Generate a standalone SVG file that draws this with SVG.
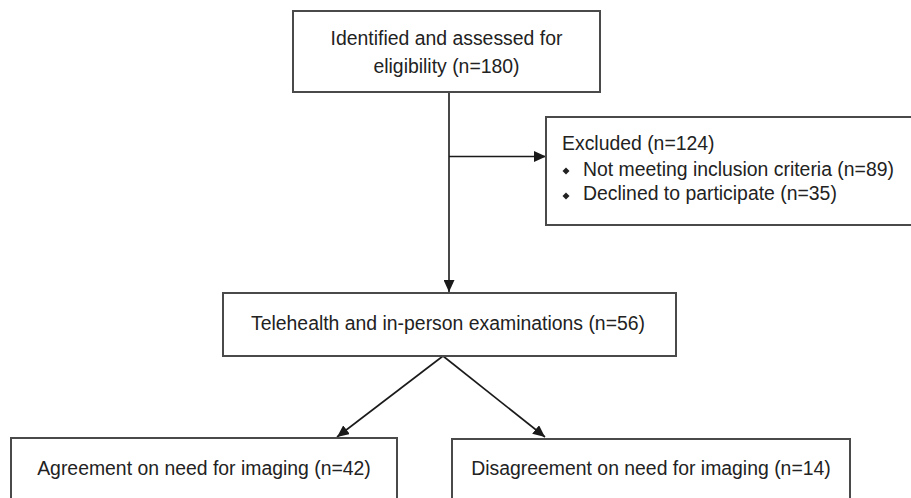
<svg xmlns="http://www.w3.org/2000/svg" width="911" height="498" viewBox="0 0 911 498">
  <style>
    .box { fill: #ffffff; stroke: #4a4a4a; stroke-width: 2; }
    .lbl { font-family: "Liberation Sans", Arial, sans-serif; font-size: 19.4px; fill: #222222; }
    .mid { text-anchor: middle; }
    .conn { stroke: #1a1a1a; stroke-width: 1.6; fill: none; }
  </style>
  <defs>
    <marker id="arrow" viewBox="0 0 12 11" refX="12" refY="5.5" markerWidth="12" markerHeight="11" markerUnits="userSpaceOnUse" orient="auto">
      <path d="M0,0 L12,5.5 L0,11 Z" fill="#1a1a1a"/>
    </marker>
  </defs>
  <rect width="911" height="498" fill="#ffffff"/>

  <g id="connectors">
    <line class="conn" x1="449" y1="92" x2="449" y2="292" marker-end="url(#arrow)"/>
    <line class="conn" x1="449" y1="156.5" x2="546" y2="156.5" marker-end="url(#arrow)"/>
    <line class="conn" x1="443" y1="356" x2="337" y2="437" marker-end="url(#arrow)"/>
    <line class="conn" x1="443" y1="356" x2="545" y2="437" marker-end="url(#arrow)"/>
  </g>

  <g id="identified">
    <rect class="box" x="293" y="11" width="307" height="81"/>
    <text class="lbl mid" x="446.5" y="45">Identified and assessed for</text>
    <text class="lbl mid" x="446.5" y="73">eligibility (n=180)</text>
  </g>

  <g id="excluded">
    <rect class="box" x="546" y="117" width="372" height="108"/>
    <text class="lbl" x="562" y="150">Excluded (n=124)</text>
    <path d="M566,167.5 l3.5,3.5 l-3.5,3.5 l-3.5,-3.5 Z" fill="#222222"/>
    <text class="lbl" x="583" y="176">Not meeting inclusion criteria (n=89)</text>
    <path d="M566,192.5 l3.5,3.5 l-3.5,3.5 l-3.5,-3.5 Z" fill="#222222"/>
    <text class="lbl" x="583" y="200">Declined to participate (n=35)</text>
  </g>

  <g id="telehealth">
    <rect class="box" x="223" y="293" width="453" height="63"/>
    <text class="lbl mid" x="448" y="330">Telehealth and in-person examinations (n=56)</text>
  </g>

  <g id="agreement">
    <rect class="box" x="11" y="438" width="386" height="80"/>
    <text class="lbl mid" x="204" y="475">Agreement on need for imaging (n=42)</text>
  </g>

  <g id="disagreement">
    <rect class="box" x="452" y="439" width="398" height="80"/>
    <text class="lbl mid" x="651" y="475">Disagreement on need for imaging (n=14)</text>
  </g>
</svg>
